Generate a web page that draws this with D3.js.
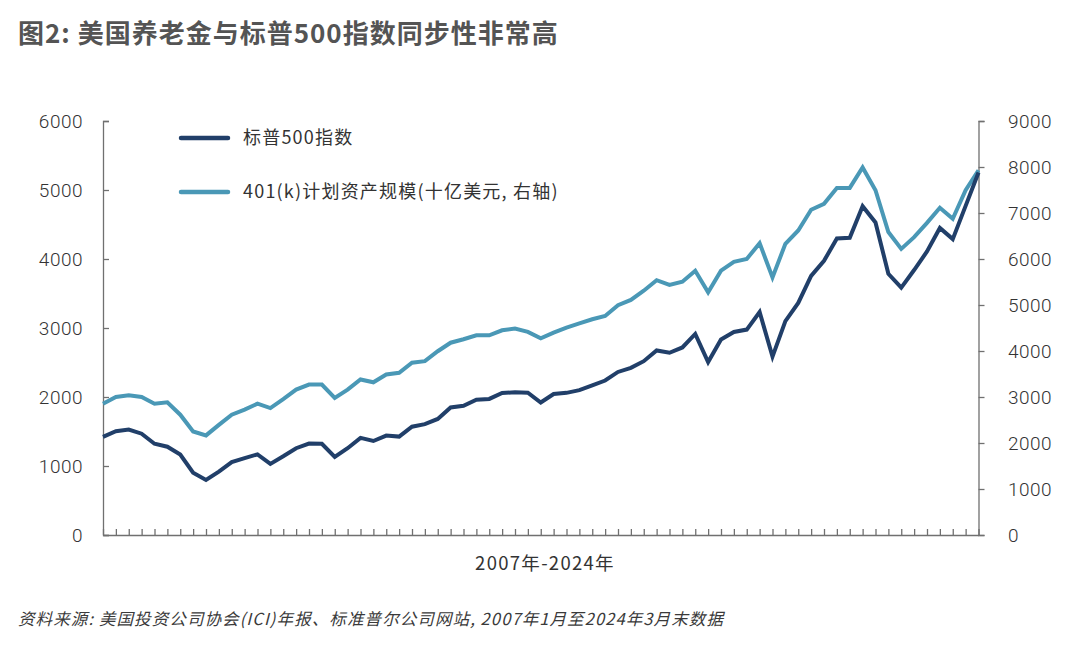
<!DOCTYPE html>
<html lang="zh">
<head>
  <meta charset="UTF-8">
  <title>图2</title>
  <script src="https://d3js.org/d3.v7.min.js"></script>
  <style>
    body { margin: 0; padding: 0; background: #fff; }
    svg { display: block; }
    text { font-family: "Noto Sans CJK SC", "Noto Sans", sans-serif; fill: #333; }
    .tick-label { font-family: Roboto, "Noto Sans CJK SC", sans-serif; font-weight: 300; font-size: 19px; letter-spacing: 0.5px; }
  </style>
</head>
<body>
<svg id="chart" width="1080" height="649"></svg>

<script>
  // quarterly, 2007Q1 .. 2024Q1
  const quarters = d3.range(2007, 2025)
    .flatMap(y => ["Q1", "Q2", "Q3", "Q4"].map(q => y + q))
    .slice(0, 69);

  // S&P 500 index, quarter end (left axis)
  const sp500 = [
    1421, 1503, 1527, 1468, 1323, 1280, 1166, 903, 798, 919, 1057, 1115,
    1169, 1031, 1141, 1258, 1326, 1321, 1131, 1258, 1408, 1362, 1441, 1426,
    1569, 1606, 1682, 1848, 1872, 1960, 1972, 2059, 2068, 2063, 1920, 2044,
    2060, 2099, 2168, 2239, 2363, 2423, 2519, 2674, 2641, 2718, 2914, 2507,
    2834, 2942, 2977, 3231, 2585, 3100, 3363, 3756, 3973, 4298, 4308, 4766,
    4530, 3785, 3586, 3840, 4109, 4450, 4288, 4770, 5254
  ];

  // 401(k) plan assets, billion USD (right axis)
  const assets401k = [
    2855, 3000, 3035, 3000, 2855, 2885, 2615, 2250, 2165, 2395, 2615, 2725,
    2855, 2760, 2955, 3160, 3270, 3270, 2980, 3160, 3380, 3320, 3490, 3525,
    3745, 3780, 3995, 4180, 4255, 4340, 4340, 4450, 4490, 4415, 4275, 4400,
    4510, 4600, 4690, 4760, 4995, 5110, 5310, 5540, 5435, 5505, 5745, 5275,
    5745, 5940, 6000, 6345, 5600, 6330, 6620, 7070, 7200, 7545, 7545, 7990,
    7495, 6585, 6220, 6475, 6785, 7115, 6875, 7495, 7930
  ];

  const leftTicks = [0, 1000, 2000, 3000, 4000, 5000, 6000];
  const rightTicks = [0, 1000, 2000, 3000, 4000, 5000, 6000, 7000, 8000, 9000];

  const seriesNames = ["标普500指数", "401(k)计划资产规模(十亿美元, 右轴)"];
  const colors = ["#213f69", "#4a98b6"];

  const titleText = "图2: 美国养老金与标普500指数同步性非常高";
  const xLabel = "2007年-2024年";
  const sourceText = "资料来源: 美国投资公司协会(ICI)年报、标准普尔公司网站, 2007年1月至2024年3月末数据";

  const svg = d3.select("#chart");
  const plot = { left: 103, right: 978.5, top: 121, bottom: 535 };

  const x = d3.scalePoint().domain(quarters).range([plot.left, plot.right]);
  const yL = d3.scaleLinear().domain([0, 6000]).range([plot.bottom, plot.top]);
  const yR = d3.scaleLinear().domain([0, 9000]).range([plot.bottom, plot.top]);

  // title
  svg.append("text")
    .attr("x", 18).attr("y", 43)
    .style("font-size", "26px").style("font-weight", 700)
    .style("letter-spacing", "1px")
    .style("fill", "#545454")
    .text(titleText);

  const axisColor = "#707070";

  // left axis, ticks pointing inward
  const gL = svg.append("g").attr("transform", `translate(${plot.left},0)`)
    .call(d3.axisRight(yL).tickValues(leftTicks).tickSize(6).tickFormat(""));
  gL.select(".domain").attr("stroke", axisColor).attr("stroke-width", 1.3);
  gL.selectAll(".tick line").attr("stroke", axisColor).attr("stroke-width", 1.3);
  svg.append("g").selectAll("text").data(leftTicks).join("text")
    .attr("class", "tick-label")
    .attr("x", 83).attr("y", d => yL(d)).attr("dy", "0.35em")
    .attr("text-anchor", "end")
    .text(d => d);

  // right axis, ticks pointing outward
  const gR = svg.append("g").attr("transform", `translate(${plot.right},0)`)
    .call(d3.axisRight(yR).tickValues(rightTicks).tickSize(6).tickFormat(""));
  gR.select(".domain").attr("stroke", axisColor).attr("stroke-width", 1.3);
  gR.selectAll(".tick line").attr("stroke", axisColor).attr("stroke-width", 1.3);
  svg.append("g").selectAll("text").data(rightTicks).join("text")
    .attr("class", "tick-label")
    .attr("x", 1008).attr("y", d => yR(d)).attr("dy", "0.35em")
    .attr("text-anchor", "start")
    .text(d => d);

  // bottom axis, one tick per quarter, pointing up
  const gX = svg.append("g").attr("transform", `translate(0,${plot.bottom})`)
    .call(d3.axisTop(x).tickSize(6).tickFormat("").tickSizeOuter(0));
  gX.select(".domain").attr("stroke", axisColor).attr("stroke-width", 1.3);
  gX.selectAll(".tick line").attr("stroke", axisColor).attr("stroke-width", 1.3);

  svg.append("text")
    .attr("x", 545).attr("y", 570)
    .attr("text-anchor", "middle")
    .style("font-size", "18.5px").style("letter-spacing", "1.3px")
    .text(xLabel);

  // lines
  const lineR = d3.line().x((d, i) => x(quarters[i])).y(d => yR(d));
  const lineL = d3.line().x((d, i) => x(quarters[i])).y(d => yL(d));

  svg.append("path").datum(assets401k)
    .attr("d", lineR).attr("fill", "none")
    .attr("stroke", colors[1]).attr("stroke-width", 4)
    .attr("stroke-linejoin", "miter");

  svg.append("path").datum(sp500)
    .attr("d", lineL).attr("fill", "none")
    .attr("stroke", colors[0]).attr("stroke-width", 4)
    .attr("stroke-linejoin", "miter");

  // legend
  const legend = svg.append("g");
  seriesNames.forEach((name, i) => {
    const ly = 138 + i * 54;
    legend.append("line")
      .attr("x1", 181).attr("x2", 228).attr("y1", ly).attr("y2", ly)
      .attr("stroke", colors[i]).attr("stroke-width", 4.5)
      .attr("stroke-linecap", "round");
    legend.append("text")
      .attr("x", 243).attr("y", ly).attr("dy", "0.35em")
      .style("font-size", "18px").style("letter-spacing", "1.2px")
      .text(name);
  });

  // source note
  svg.append("text")
    .attr("x", 18).attr("y", 625)
    .style("font-size", "16.5px").style("font-style", "italic")
    .style("letter-spacing", "1.1px")
    .style("fill", "#3a3a3a")
    .text(sourceText);
</script>
</body>
</html>
